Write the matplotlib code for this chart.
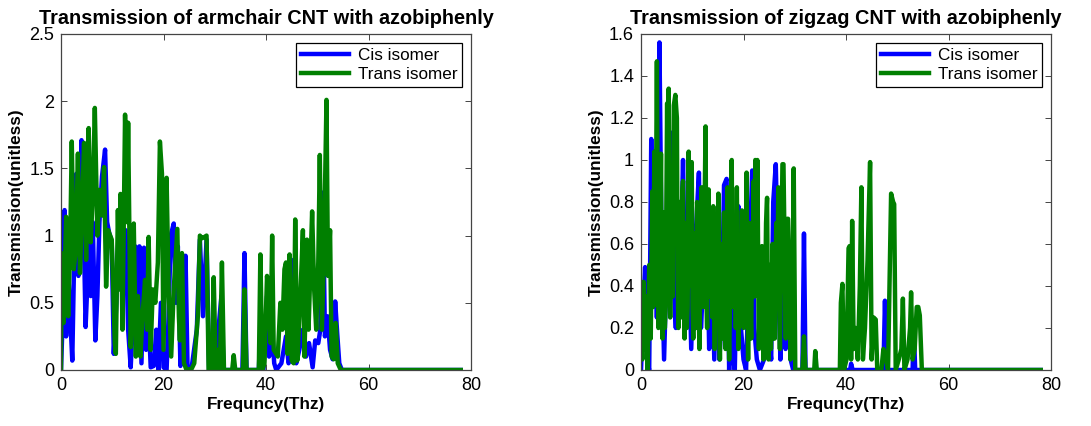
import matplotlib
matplotlib.use("Agg")
import matplotlib.pyplot as plt

plt.rcParams['font.family'] = ['Liberation Sans', 'DejaVu Sans']

# ---- Armchair CNT ----
arm_cis_f = [0.0, 0.3, 0.7, 1.0, 1.4, 1.8, 2.2, 2.6, 3.0, 3.4, 4.0, 4.4, 4.8, 5.1, 5.4, 5.8, 6.2, 6.7,
             7.1, 7.5, 8.0, 8.6, 9.0, 9.4, 9.9, 10.3, 10.8, 11.2, 11.6, 12.0, 12.6, 13.1, 13.6, 14.0,
             14.5, 14.9, 15.3, 15.7, 16.2, 16.6, 17.0, 17.5, 18.1, 18.6, 19.0, 19.5, 20.0, 20.6, 21.0,
             21.4, 22.0, 22.4, 22.8, 23.3, 23.8, 24.3, 24.7, 25.5, 26.5, 27.1, 27.7, 28.4, 28.9, 30.0,
             31.3, 31.7, 35.4, 35.8, 36.2, 38.6, 39.0, 39.5, 40.2, 40.6, 41.2, 41.6, 42.0, 43.0, 43.9,
             44.4, 45.0, 45.4, 45.9, 46.5, 47.2, 47.8, 48.4, 49.1, 49.6, 50.2, 50.6, 51.1, 51.5, 52.0,
             52.5, 53.0, 53.5, 53.9, 54.3, 54.8, 78.0]
arm_cis_t = [0.0, 0.35, 1.19, 0.25, 0.75, 0.40, 0.07, 0.90, 1.46, 0.70, 1.71, 1.10, 0.32, 0.60, 0.98, 0.55,
             1.10, 0.22, 0.55, 1.10, 1.44, 1.64, 1.10, 1.02, 0.95, 0.12, 0.50, 1.00, 0.60, 1.05, 1.04,
             0.30, 0.02, 0.35, 0.92, 0.40, 0.92, 0.05, 0.91, 0.15, 0.50, 0.02, 0.03, 0.30, 0.00, 0.50,
             0.02, 0.00, 0.40, 1.00, 1.09, 0.50, 0.92, 0.03, 0.20, 0.85, 0.00, 0.02, 0.30, 0.97, 0.40,
             0.97, 0.00, 0.00, 0.55, 0.00, 0.00, 0.87, 0.00, 0.00, 0.40, 0.00, 0.55, 0.10, 0.30, 0.05,
             0.00, 0.05, 0.25, 0.05, 0.10, 0.82, 0.05, 0.15, 0.30, 0.10, 0.20, 0.02, 0.22, 0.20, 0.30,
             1.32, 0.25, 0.40, 0.15, 0.08, 0.51, 0.27, 0.05, 0.00, 0.00]

arm_trans_f = [0.0, 0.1, 0.5, 1.0, 1.4, 1.8, 2.1, 2.5, 2.9, 3.3, 3.7, 4.1, 4.5, 4.9, 5.4, 5.8, 6.2, 6.6,
               7.1, 7.5, 8.0, 8.4, 8.8, 9.2, 9.9, 10.5, 10.7, 11.1, 11.4, 11.6, 12.0, 12.5, 12.9, 13.1,
               13.6, 14.0, 14.2, 14.6, 15.0, 15.5, 15.9, 16.4, 16.8, 17.1, 17.5, 17.9, 18.4, 18.9, 19.3,
               19.7, 20.0, 20.6, 21.0, 21.5, 22.0, 22.7, 23.0, 23.2, 23.6, 24.0, 24.5, 25.5, 26.0, 26.7,
               27.1, 27.5, 28.0, 28.4, 28.8, 29.4, 29.8, 30.2, 30.7, 31.0, 31.4, 31.8, 33.4, 33.7, 34.0,
               35.5, 35.8, 36.2, 38.6, 38.9, 39.3, 39.7, 40.2, 40.5, 40.9, 41.2, 41.5, 42.3, 42.8, 43.2,
               43.6, 43.9, 44.2, 44.6, 45.0, 45.4, 45.7, 46.1, 46.6, 47.2, 47.5, 48.0, 48.3, 49.0, 49.4,
               49.8, 50.2, 50.5, 50.9, 51.3, 51.8, 52.1, 52.5, 52.8, 53.2, 53.6, 54.0, 54.6, 78.0]
arm_trans_t = [0.00, 0.87, 0.35, 1.14, 0.40, 0.95, 1.70, 0.75, 0.90, 1.61, 0.72, 1.20, 1.69, 0.82, 1.80,
               0.95, 1.30, 1.95, 1.00, 1.34, 1.15, 1.51, 0.62, 1.04, 0.97, 0.20, 0.12, 1.19, 0.60, 1.31,
               0.30, 1.90, 1.10, 1.84, 0.17, 0.70, 1.09, 0.10, 0.55, 0.10, 0.40, 0.67, 0.30, 0.99, 0.15,
               0.60, 0.50, 0.80, 1.70, 1.46, 0.15, 1.43, 0.60, 0.10, 0.60, 1.05, 0.40, 0.22, 0.87, 0.05,
               0.00, 0.01, 0.05, 0.40, 1.00, 0.98, 0.99, 1.00, 0.00, 0.00, 0.69, 0.00, 0.15, 0.00, 0.80,
               0.00, 0.00, 0.11, 0.00, 0.00, 0.60, 0.00, 0.00, 0.86, 0.00, 0.05, 0.70, 0.52, 0.20, 1.00,
               0.15, 0.10, 0.50, 0.30, 0.75, 0.80, 0.12, 0.86, 0.07, 0.05, 1.12, 0.07, 0.45, 1.04, 0.10,
               0.97, 0.30, 1.18, 0.60, 0.30, 0.80, 1.60, 0.30, 0.85, 2.01, 0.70, 1.04, 0.10, 0.08, 0.35,
               0.05, 0.00, 0.00]

# ---- Zigzag CNT ----
zig_cis_f = [0.0, 0.5, 0.8, 1.2, 1.6, 2.0, 2.3, 2.7, 3.1, 3.6, 4.0, 4.5, 5.0, 5.6, 6.0, 6.4, 6.8, 7.2,
             7.7, 8.2, 8.6, 9.2, 9.8, 10.3, 10.8, 11.3, 11.7, 12.2, 12.8, 13.3, 13.8, 14.3, 14.8, 15.3,
             15.8, 16.2, 16.7, 17.2, 17.6, 18.0, 18.3, 18.7, 19.0, 19.5, 20.0, 20.5, 21.0, 21.7, 22.1,
             22.6, 23.2, 24.0, 24.8, 25.4, 25.8, 26.3, 26.8, 27.2, 27.7, 28.2, 28.7, 29.2, 29.7, 31.5,
             31.8, 32.1, 40.8, 41.0, 41.3, 47.3, 47.6, 47.9, 53.0, 53.2, 53.5, 78.0]
zig_cis_t = [0.00, 0.32, 0.49, 0.05, 0.00, 1.10, 0.50, 0.95, 0.25, 1.56, 0.60, 0.05, 0.50, 0.80, 1.13,
             0.40, 0.20, 0.80, 0.45, 1.00, 0.35, 0.70, 0.10, 0.55, 0.70, 0.94, 0.20, 0.45, 0.80, 0.10,
             0.55, 0.05, 0.60, 0.05, 0.30, 0.88, 0.91, 0.00, 0.40, 0.05, 0.00, 0.50, 0.78, 0.20, 0.05,
             0.00, 0.40, 0.95, 0.20, 0.05, 0.00, 0.05, 0.20, 0.05, 0.80, 0.98, 0.40, 0.05, 0.70, 0.10,
             0.30, 0.05, 0.00, 0.00, 0.65, 0.00, 0.00, 0.03, 0.00, 0.00, 0.33, 0.00, 0.00, 0.22, 0.00,
             0.00]

zig_trans_f = [0.0, 0.25, 0.5, 0.75, 1.0, 1.3, 1.6, 1.9, 2.2, 2.4,
               2.6, 2.8, 3.1, 3.4, 3.55, 3.7, 3.9, 4.05, 4.2, 4.35,
               4.5, 4.65, 4.8, 5.1, 5.25, 5.4, 5.55, 5.7, 5.85, 6.0,
               6.2, 6.4, 6.7, 7.0, 7.15, 7.3, 7.45, 7.6, 7.75, 7.9,
               8.05, 8.2, 8.35, 8.5, 8.65, 8.8, 8.95, 9.1, 9.3, 9.45,
               9.6, 9.75, 9.9, 10.05, 10.2, 10.35, 10.5, 10.65, 10.8, 10.95,
               11.1, 11.25, 11.4, 11.6, 11.8, 11.95, 12.1, 12.25, 12.4, 12.6,
               12.75, 12.9, 13.05, 13.2, 13.35, 13.5, 13.65, 13.8, 13.95, 14.1,
               14.25, 14.4, 14.55, 14.7, 14.9, 15.1, 15.25, 15.4, 15.55, 15.7,
               15.85, 16.0, 16.2, 16.35, 16.5, 16.7, 16.9, 17.05, 17.2, 17.4,
               17.55, 17.7, 17.85, 18.0, 18.15, 18.3, 18.5, 18.7, 18.85, 19.0,
               19.15, 19.3, 19.5, 19.7, 19.85, 20.0, 20.15, 20.3, 20.45, 20.6,
               20.75, 20.9, 21.05, 21.2, 21.35, 21.5, 21.65, 21.8, 22.0, 22.15,
               22.3, 22.5, 22.7, 22.85, 23.0, 23.15, 23.3, 23.45, 23.6, 23.75,
               23.9, 24.05, 24.2, 24.4, 24.6, 24.75, 24.9, 25.05, 25.2, 25.35,
               25.5, 25.65, 25.8, 25.95, 26.1, 26.25, 26.4, 26.6, 26.8, 26.95,
               27.1, 27.25, 27.4, 27.6, 27.8, 28.1, 28.25, 28.4, 28.55, 28.7,
               29.0, 29.15, 29.3, 29.5, 29.8, 30.1, 31.5, 31.8, 32.1, 33.8,
               34.0, 34.3, 38.8, 39.0, 39.3, 39.6, 40.1, 40.5, 40.7, 41.0,
               41.2, 41.5, 41.9, 42.3, 42.7, 43.0, 43.3, 43.7, 44.2, 44.7,
               45.0, 45.4, 45.8, 46.1, 46.9, 47.3, 47.8, 48.2, 48.8, 49.2,
               49.4, 49.7, 50.3, 50.8, 51.1, 51.4, 52.0, 52.5, 52.7, 53.0,
               53.4, 53.8, 54.1, 54.4, 54.8, 78.0]
zig_trans_t = [0.30, 0.05, 0.42, 0.10, 0.35, 0.00, 0.50, 0.15, 0.85, 0.30,
               1.04, 0.35, 1.47, 0.20, 0.65, 0.40, 1.03, 0.30, 0.15, 0.75,
               0.60, 0.20, 0.30, 1.27, 0.45, 1.34, 0.55, 0.25, 0.90, 0.70,
               0.35, 1.26, 1.31, 1.20, 0.45, 0.20, 0.80, 0.71, 0.25, 0.40,
               0.85, 0.90, 0.35, 0.15, 0.70, 0.60, 0.20, 0.30, 1.04, 0.40,
               0.50, 0.85, 0.99, 0.30, 0.15, 0.65, 0.55, 0.20, 0.25, 0.80,
               0.70, 0.30, 0.10, 0.60, 0.87, 0.45, 0.30, 0.55, 0.75, 1.16,
               0.35, 0.20, 0.65, 0.86, 0.40, 0.35, 0.70, 0.60, 0.25, 0.78,
               0.45, 0.10, 0.60, 0.55, 0.30, 0.84, 0.35, 0.05, 0.60, 0.45,
               0.15, 0.20, 0.75, 0.30, 0.10, 0.55, 0.87, 0.25, 0.05, 0.40,
               0.65, 1.00, 0.40, 0.30, 0.60, 0.70, 0.20, 0.87, 0.45, 0.10,
               0.60, 0.50, 0.25, 0.76, 0.35, 0.20, 0.55, 0.60, 0.30, 0.94,
               0.40, 0.05, 0.50, 0.70, 0.30, 0.15, 0.65, 0.50, 0.90, 0.35,
               1.00, 0.40, 1.00, 0.55, 0.10, 0.40, 0.45, 0.20, 0.59, 0.30,
               0.05, 0.45, 0.30, 0.70, 0.82, 0.30, 0.05, 0.50, 0.40, 0.10,
               0.35, 0.60, 0.15, 0.60, 0.15, 0.45, 0.70, 0.40, 0.87, 0.55,
               0.10, 0.35, 0.60, 0.98, 0.98, 0.45, 0.15, 0.55, 0.72, 0.72,
               0.40, 0.05, 0.50, 0.20, 0.96, 0.00, 0.00, 0.16, 0.00, 0.00,
               0.09, 0.00, 0.00, 0.32, 0.41, 0.00, 0.05, 0.58, 0.59, 0.05,
               0.71, 0.10, 0.20, 0.05, 0.40, 0.87, 0.05, 0.20, 0.52, 0.99,
               0.05, 0.25, 0.24, 0.00, 0.00, 0.10, 0.05, 0.00, 0.84, 0.80,
               0.79, 0.00, 0.05, 0.10, 0.34, 0.00, 0.05, 0.20, 0.37, 0.05,
               0.10, 0.30, 0.30, 0.26, 0.00, 0.00]

x_ticks = [0, 20, 40, 60, 80]
arm_yticks = [0, 0.5, 1, 1.5, 2, 2.5]
arm_ylabels = ['0', '0.5', '1', '1.5', '2', '2.5']
zig_yticks = [0, 0.2, 0.4, 0.6, 0.8, 1.0, 1.2, 1.4, 1.6]
zig_ylabels = ['0', '0.2', '0.4', '0.6', '0.8', '1', '1.2', '1.4', '1.6']

panels = [
    dict(title='Transmission of armchair CNT with azobiphenly',
         cis=(arm_cis_f, arm_cis_t), trans=(arm_trans_f, arm_trans_t),
         yticks=arm_yticks, ylabels=arm_ylabels, ymax=2.5),
    dict(title='Transmission of zigzag CNT with azobiphenly',
         cis=(zig_cis_f, zig_cis_t), trans=(zig_trans_f, zig_trans_t),
         yticks=zig_yticks, ylabels=zig_ylabels, ymax=1.6),
]

fig = plt.figure(figsize=(10.91, 4.26), dpi=100)
lefts = [61 / 1091, 641 / 1091]
for left, p in zip(lefts, panels):
    ax = fig.add_axes([left, 56 / 426, 410 / 1091, 336 / 426])
    ax.plot(*p['cis'], color='#0000ff', lw=3.2, label='Cis isomer', solid_joinstyle='round')
    ax.plot(*p['trans'], color='#007f00', lw=3.2, label='Trans isomer', solid_joinstyle='round')
    ax.set_xlim(0, 80)
    ax.set_ylim(0, p['ymax'])
    ax.set_xticks(x_ticks)
    ax.set_xticklabels([str(v) for v in x_ticks])
    ax.set_yticks(p['yticks'])
    ax.set_yticklabels(p['ylabels'])
    ax.tick_params(direction='in', top=True, right=True, labelsize=13, length=4,
                   width=0.7, color='#444444', pad=5)
    for s in ax.spines.values():
        s.set_color('#444444')
        s.set_linewidth(0.9)
    ax.set_title(p['title'], fontsize=14.3, fontweight='bold', pad=7)
    ax.set_xlabel('Frequncy(Thz)', fontsize=12.3, fontweight='bold', labelpad=2)
    ax.set_ylabel('Transmission(unitless)', fontsize=12.3, fontweight='bold', labelpad=4)
    leg = ax.legend(loc='upper right', fontsize=12.3, handlelength=2.8, fancybox=False,
                    framealpha=1, edgecolor='black', borderaxespad=0.5,
                    handletextpad=0.5, labelspacing=0.25, borderpad=0.3)
    leg.get_frame().set_linewidth(0.9)

fig.savefig('out.png', dpi=100)
